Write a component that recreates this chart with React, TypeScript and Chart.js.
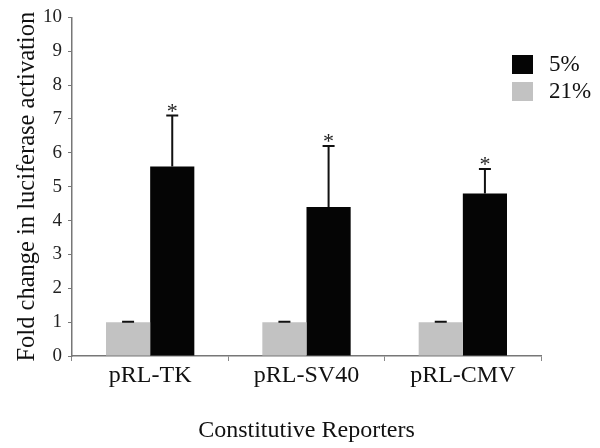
import React, { useEffect, useRef } from "react";
import { Chart, registerables } from "chart.js";

Chart.register(...registerables);

const categories = ["pRL-TK", "pRL-SV40", "pRL-CMV"];
const seriesLabels = ["21%", "5%"];
const values21 = [1.0, 1.0, 1.0];
const values5 = [5.6, 4.4, 4.8];
const err21 = [0.01, 0.01, 0.01];
const err5 = [1.5, 1.8, 0.72];
const significant5 = [true, true, true];
const yTicks = [0, 1, 2, 3, 4, 5, 6, 7, 8, 9, 10];

const FONT = "'Liberation Serif', 'Times New Roman', serif";
const GRAY = "#c2c2c2";
const BLACK = "#050505";

const errorBarPlugin = {
  id: "errorBars",
  afterDatasetsDraw(chart: any) {
    const ctx = chart.ctx;
    const y = chart.scales.y;
    chart.data.datasets.forEach((ds: any, di: number) => {
      const meta = chart.getDatasetMeta(di);
      const errs: number[] = ds.errors;
      meta.data.forEach((bar: any, i: number) => {
        const v = ds.data[i];
        const top = y.getPixelForValue(v + errs[i]);
        const base = y.getPixelForValue(v);
        const x = bar.x;
        ctx.save();
        ctx.strokeStyle = "#111";
        ctx.lineWidth = 2;
        ctx.beginPath();
        ctx.moveTo(x, base);
        ctx.lineTo(x, top);
        ctx.moveTo(x - 6, top);
        ctx.lineTo(x + 6, top);
        ctx.stroke();
        if (ds.stars && ds.stars[i]) {
          ctx.fillStyle = "#222";
          ctx.font = `22px ${FONT}`;
          ctx.textAlign = "center";
          ctx.textBaseline = "alphabetic";
          ctx.fillText("*", x, top + 2);
        }
        ctx.restore();
      });
    });
  },
};

const legendPlugin = {
  id: "customLegend",
  afterDraw(chart: any) {
    const ctx = chart.ctx;
    const order = [1, 0];
    ctx.save();
    order.forEach((di, k) => {
      const ds = chart.data.datasets[di];
      const yTop = 55 + k * 27;
      ctx.fillStyle = ds.backgroundColor;
      ctx.fillRect(512, yTop, 21, 19);
      ctx.fillStyle = "#111";
      ctx.font = `23px ${FONT}`;
      ctx.textAlign = "left";
      ctx.textBaseline = "middle";
      ctx.fillText(ds.label, 549, yTop + 10);
    });
    ctx.restore();
  },
};

export default function App() {
  const ref = useRef<HTMLCanvasElement>(null);
  useEffect(() => {
    if (!ref.current) return;
    const chart = new Chart(ref.current, {
      type: "bar",
      data: {
        labels: categories,
        datasets: [
          {
            label: seriesLabels[0],
            data: values21,
            backgroundColor: GRAY,
            errors: err21,
            stars: [false, false, false],
          } as any,
          {
            label: seriesLabels[1],
            data: values5,
            backgroundColor: BLACK,
            errors: err5,
            stars: significant5,
          } as any,
        ],
      },
      plugins: [errorBarPlugin, legendPlugin],
      options: {
        responsive: false,
        animation: false,
        layout: { padding: { left: 0, right: 59, top: 6, bottom: 0 } },
        datasets: { bar: { categoryPercentage: 0.565, barPercentage: 1.0 } },
        plugins: { legend: { display: false }, tooltip: { enabled: false } },
        scales: {
          x: {
            grid: { display: true, drawOnChartArea: false, tickLength: 5, color: "#888" },
            border: { color: "#777", width: 1.5 },
            ticks: { font: { family: FONT, size: 24 }, color: "#111", padding: 0 },
            title: {
              display: true,
              text: "Constitutive Reporters",
              font: { family: FONT, size: 24 },
              color: "#111",
              padding: { top: 0, bottom: 3 },
            },
            afterFit(scale: any) {
              scale.height = 92;
            },
          },
          y: {
            min: 0,
            max: 10,
            afterBuildTicks(scale: any) {
              scale.ticks = yTicks.map((v) => ({ value: v }));
            },
            grid: { display: true, drawOnChartArea: false, tickLength: 4, color: "#777" },
            border: { color: "#777", width: 1.5 },
            ticks: { font: { family: FONT, size: 19 }, color: "#222", padding: 6 },
            title: {
              display: true,
              text: "Fold change in luciferase activation",
              font: { family: FONT, size: 24.5 },
              color: "#111",
              padding: { top: 13, bottom: 0 },
            },
            afterFit(scale: any) {
              scale.width = 72;
            },
          },
        },
      } as any,
    });
    return () => chart.destroy();
  }, []);
  return (
    <div style={{ position: "fixed", left: 0, top: 0, width: 600, height: 448, background: "#fff" }}>
      <canvas ref={ref} width={600} height={448} style={{ display: "block" }} />
    </div>
  );
}
